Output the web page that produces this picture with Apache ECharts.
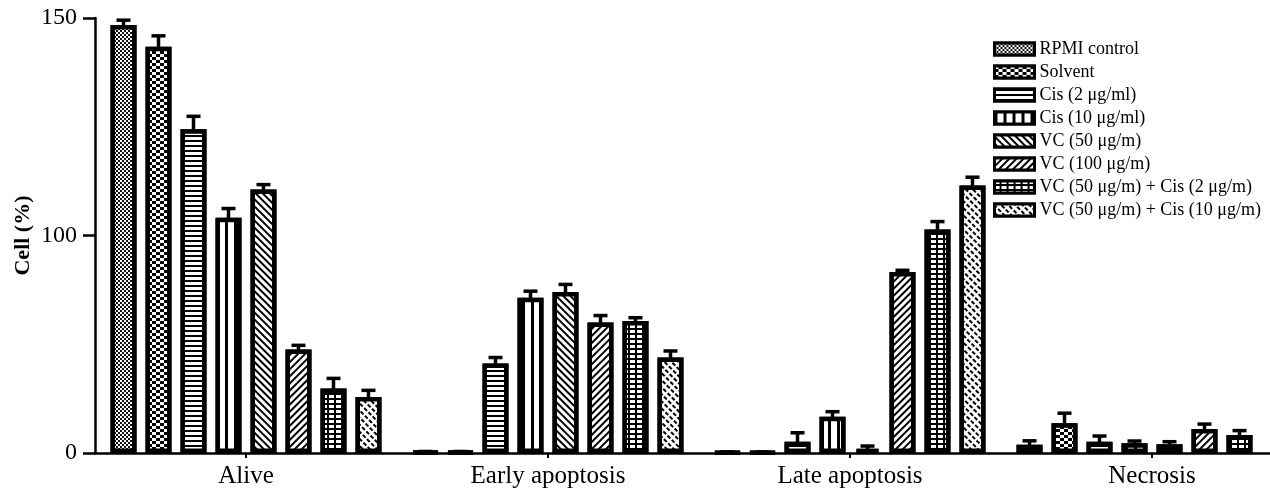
<!DOCTYPE html>
<html><head><meta charset="utf-8">
<script src="https://cdn.jsdelivr.net/npm/echarts@6/dist/echarts.min.js"></script>
<style>html,body{margin:0;padding:0;background:#fff}#c{width:1270px;height:488px}</style>
</head><body><div id="c"></div>
<script>
// ---- data (values in the reference's labelled units) ----
const categories = ['Alive', 'Early apoptosis', 'Late apoptosis', 'Necrosis'];
const seriesNames = ['RPMI control', 'Solvent', 'Cis (2 μg/ml)', 'Cis (10 μg/ml)', 'VC (50 μg/m)', 'VC (100 μg/m)', 'VC (50 μg/m) + Cis (2 μg/m)', 'VC (50 μg/m) + Cis (10 μg/m)'];
const rpmi      = [148.4, 0.4, 0.3, 3.8];
const solvent   = [143.4, 0.4, 0.3, 13.7];
const cis2      = [124.4, 41.1, 5.2, 5.2];
const cis10     = [104.1, 71.4, 16.7, 4.5];
const vc50      = [110.6, 74.0, 1.8, 4.0];
const vc100     = [47.6, 60.0, 83.2, 11.0];
const vc50cis2  = [29.7, 60.7, 101.4, 8.3];
const vc50cis10 = [25.8, 43.9, 111.5, null]; // necrosis bar is cropped out of the reference
const rpmiErr      = [1.1, 0.3, 0.2, 1.8];
const solventErr   = [2.5, 0.3, 0.2, 4.6];
const cis2Err      = [3.0, 2.8, 4.1, 2.6];
const cis10Err     = [2.1, 3.0, 2.3, 1.0];
const vc50Err      = [1.1, 3.5, 1.4, 1.2];
const vc100Err     = [1.9, 3.2, 0.8, 2.3];
const vc50cis2Err  = [4.6, 1.5, 1.8, 2.0];
const vc50cis10Err = [3.0, 3.0, 1.9, null];
const yTickLabels = [0, 100, 150];

const values = [rpmi, solvent, cis2, cis10, vc50, vc100, vc50cis2, vc50cis10];
const errors = [rpmiErr, solventErr, cis2Err, cis10Err, vc50Err, vc100Err, vc50cis2Err, vc50cis10Err];

// segmented axis: 0-100 occupies the lower half, 100-150 the upper half
function toAxis(v) { return v == null ? null : (v <= 100 ? v : 100 + (v - 100) * 2); }

const BAR_W = 26, GAP = 0.346;
const FONT = 'Liberation Serif';
const D = Math.PI / 4;
const decals = [
  {symbol: 'rect', symbolSize: 1, color: '#111', backgroundColor: '#fff', dashArrayX: [[2, 2], [0, 2, 2, 0]], dashArrayY: [2, 0]},
  {symbol: 'rect', symbolSize: 1, color: '#000', backgroundColor: '#fff', dashArrayX: [[4, 4], [0, 4, 4, 0]], dashArrayY: [3, 0]},
  {symbol: 'rect', symbolSize: 1, color: '#000', backgroundColor: '#fff', dashArrayX: [1, 0], dashArrayY: [1.6, 2.2]},
  {symbol: 'rect', symbolSize: 1, color: '#000', backgroundColor: '#fff', dashArrayX: [2.6, 5.4], dashArrayY: [1, 0]},
  {symbol: 'rect', symbolSize: 1, color: '#000', backgroundColor: '#fff', dashArrayX: [1, 0], dashArrayY: [1.3, 2.2], rotation: D},
  {symbol: 'rect', symbolSize: 1, color: '#000', backgroundColor: '#fff', dashArrayX: [1, 0], dashArrayY: [1.3, 2.2], rotation: -D},
  {symbol: 'rect', symbolSize: 1, color: '#fff', backgroundColor: '#000', dashArrayX: [5, 1.8], dashArrayY: [2.6, 1.5]},
  {symbol: 'rect', symbolSize: 1, color: '#000', backgroundColor: '#fff', dashArrayX: [4, 2], dashArrayY: [1.3, 2.2], rotation: D}
];

const barSeries = seriesNames.map((name, s) => ({
  type: 'bar', name,
  data: values[s].map(toAxis),
  barWidth: BAR_W, barGap: (GAP * 100) + '%',
  itemStyle: {color: '#fff', borderColor: '#000', borderWidth: 4.5, decal: decals[s]},
  emphasis: {disabled: true}
}));

const errData = [];
values.forEach((vals, s) => vals.forEach((v, c) => { if (v != null) errData.push([c, v, errors[s][c], s]); }));

const errSeries = {
  type: 'custom', z: 5, silent: true,
  renderItem(params, api) {
    const c = api.value(0), v = api.value(1), e = api.value(2), s = api.value(3);
    const base = api.coord([c, toAxis(v)]);
    const top = api.coord([c, toAxis(v + e)]);
    const x = base[0] + (s - 3.5) * BAR_W * (1 + GAP);
    return {type: 'group', children: [
      {type: 'line', shape: {x1: x, y1: base[1] + 2, x2: x, y2: top[1]}, style: {stroke: '#000', lineWidth: 3.5}},
      {type: 'line', shape: {x1: x - 7, y1: top[1], x2: x + 7, y2: top[1]}, style: {stroke: '#000', lineWidth: 3.5}}
    ]};
  },
  data: errData,
  encode: {x: 0, y: 1}
};

const chart = echarts.init(document.getElementById('c'), null, {renderer: 'canvas'});
chart.setOption({
  animation: false,
  backgroundColor: '#fff',
  grid: {left: 95, top: 18, bottom: 35, width: 1208, containLabel: false, outerBoundsMode: 'none'},
  legend: {
    data: seriesNames, orient: 'vertical', left: 988, top: 35,
    itemWidth: 40, itemHeight: 12, itemGap: 5, icon: 'rect',
    itemStyle: {borderColor: '#000', borderWidth: 3},
    textStyle: {fontFamily: FONT, fontSize: 18, color: '#000'},
    selectedMode: false
  },
  xAxis: {
    type: 'category', data: categories,
    axisLine: {lineStyle: {color: '#000', width: 2.5}},
    axisTick: {show: true, alignWithLabel: true, length: 5, lineStyle: {color: '#000', width: 2}},
    axisLabel: {fontFamily: FONT, fontSize: 25, color: '#000', margin: 11}
  },
  yAxis: {
    type: 'value', min: 0, max: toAxis(yTickLabels[2]), interval: 100,
    name: 'Cell (%)', nameLocation: 'middle', nameGap: 61, nameMoveOverlap: false,
    nameTextStyle: {fontFamily: FONT, fontSize: 22, fontWeight: 'bold', color: '#000'},
    axisLine: {show: true, lineStyle: {color: '#000', width: 2.5}},
    axisTick: {show: true, length: 12, lineStyle: {color: '#000', width: 2.5}},
    axisLabel: {
      fontFamily: FONT, fontSize: 24, color: '#000', margin: 18,
      formatter: v => { const i = yTickLabels.findIndex(t => toAxis(t) === v); return i >= 0 ? String(yTickLabels[i]) : ''; }
    },
    splitLine: {show: false}
  },
  series: [...barSeries, errSeries]
});
</script></body></html>
